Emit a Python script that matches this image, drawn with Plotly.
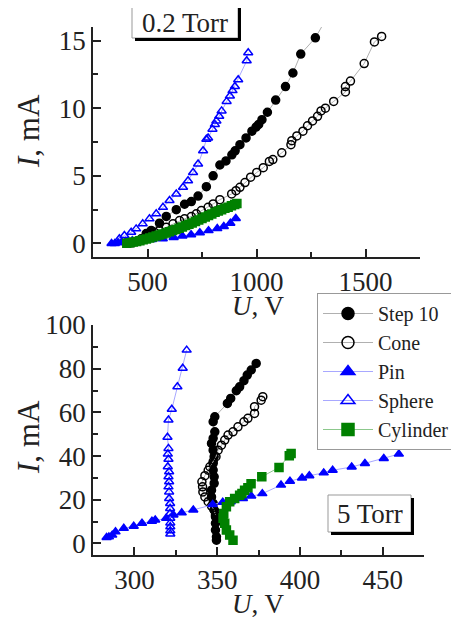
import plotly.graph_objects as go

# browser body margin is 8 px; the figure is sized so it fills the rest of the window
OFF = 8
W, H = 459 - OFF, 620 - OFF
FONT = "Liberation Serif"

# ---------------- 0.2 Torr data ----------------
step_top_u = [430, 463, 494, 517, 555, 586, 632, 670, 701, 732, 770, 801, 832, 860, 887, 902, 924, 952, 979, 998, 1010, 1025, 1050, 1088, 1133, 1167, 1203, 1270, 1320]
step_top_i = [0.05, 0.22, 0.73, 0.96, 1.5, 2.0, 2.5, 2.9, 3.1, 3.5, 4.2, 5.0, 5.8, 6.1, 6.55, 6.85, 7.3, 7.8, 8.3, 8.6, 8.8, 9.15, 9.7, 10.6, 11.6, 12.6, 14.0, 15.2, 16.6]

cone_top_u = [471, 509, 532, 555, 586, 617, 647, 670, 701, 724, 747, 778, 801, 832, 886, 906, 924, 947, 973, 1001, 1031, 1059, 1075, 1116, 1158, 1162, 1185, 1213, 1234, 1257, 1280, 1296, 1316, 1354, 1408, 1408, 1431, 1494, 1541, 1574]
cone_top_i = [0.35, 0.59, 0.83, 0.96, 1.2, 1.45, 1.69, 1.82, 1.99, 2.19, 2.43, 2.67, 2.92, 3.24, 3.66, 3.9, 4.15, 4.5, 4.9, 5.25, 5.6, 6.06, 6.2, 6.7, 7.3, 7.6, 7.95, 8.3, 8.7, 9.06, 9.4, 9.8, 10.0, 10.5, 11.2, 11.6, 12.0, 13.3, 14.9, 15.3]

pin_top_u = [335, 350, 365, 380, 400, 430, 470, 520, 570, 620, 660, 700, 740, 780, 820, 850, 880, 905]
pin_top_i = [0.0, 0.0, 0.05, 0.1, 0.15, 0.2, 0.25, 0.3, 0.35, 0.45, 0.55, 0.65, 0.8, 0.95, 1.1, 1.25, 1.5, 1.85]

sph_top_u = [371, 394, 425, 448, 478, 509, 540, 571, 601, 632, 663, 686, 709, 732, 755, 770, 778, 798, 809, 816, 829, 840, 863, 878, 890, 901, 916, 955, 962]
sph_top_i = [0.35, 0.59, 0.83, 1.08, 1.45, 1.82, 2.19, 2.67, 3.17, 3.66, 4.15, 4.64, 5.25, 5.87, 6.85, 7.7, 7.8, 8.45, 8.8, 9.06, 9.4, 9.8, 10.5, 10.9, 11.3, 11.6, 12.1, 13.5, 14.1]

cyl_top_u = [405, 420, 435, 450, 465, 480, 495, 510, 525, 540, 555, 570, 585, 600, 615, 630, 645, 660, 675, 690, 705, 720, 735, 750, 765, 780, 795, 810, 825, 840, 855, 870, 885, 900, 910]
cyl_top_i = [0.02, 0.05, 0.1, 0.15, 0.2, 0.27, 0.33, 0.4, 0.47, 0.55, 0.62, 0.7, 0.78, 0.87, 0.95, 1.04, 1.13, 1.22, 1.32, 1.42, 1.52, 1.63, 1.74, 1.85, 1.96, 2.07, 2.18, 2.3, 2.4, 2.5, 2.6, 2.68, 2.78, 2.88, 2.95]

# ---------------- 5 Torr data ----------------
step_bot_u = [349.6, 349.6, 349, 349, 349, 348.2, 347.6, 346.6, 346.6, 348.2, 348.2, 347.6, 347.6, 348.2, 347.6, 346.6, 347.6, 348.6, 347.6, 348.6, 356.2, 358.2, 361.6, 363.6, 366.2, 368.2, 370.6, 373.6]
step_bot_i = [1.5, 3.0, 6.1, 9.2, 12.2, 15.3, 18.3, 21.3, 24.4, 27.5, 30.5, 33.6, 36.6, 39.7, 42.7, 45.8, 48.1, 51.1, 55.7, 58.0, 64.1, 66.4, 69.9, 71.7, 74.5, 77.1, 79.4, 82.4]

cone_bot_u = [349, 348.2, 346.6, 344.6, 342.6, 341.4, 341.2, 340.8, 342.6, 344.6, 345.6, 347.6, 349.3, 350.6, 352.6, 354.6, 356.6, 359.6, 362.6, 366.2, 368.6, 372.6, 372.6, 376.6, 377.6]
cone_bot_i = [13.0, 15.3, 17.1, 19.1, 21.3, 23.6, 25.9, 28.2, 31.0, 33.5, 35.1, 37.4, 39.7, 42.7, 45.0, 47.3, 49.6, 51.1, 53.4, 55.7, 57.3, 59.5, 62.6, 65.6, 67.2]

pin_bot_u = [283.2, 284.6, 286.6, 288.6, 293.6, 299.6, 304.6, 310.6, 312.6, 319.2, 323.6, 328.6, 335.6, 347.3, 353.4, 358.2, 365.6, 370.6, 377.3, 388.6, 394.0, 401.3, 405.7, 414.4, 419.8, 431.3, 439.3, 450.7, 459.8]
pin_bot_i = [2.7, 3.0, 3.8, 5.3, 6.9, 7.9, 9.2, 10.2, 10.7, 11.5, 13.0, 14.0, 15.3, 17.8, 18.9, 19.1, 20.6, 21.7, 22.8, 26.7, 28.5, 30.0, 31.0, 32.3, 33.5, 35.0, 36.6, 38.9, 40.9]

sph_bot_u = [321.7, 321.7, 321.7, 321.7, 321.7, 321.5, 321.6, 321.6, 321.0, 321.0, 320.6, 321.0, 320.6, 321.0, 320.2, 320.6, 320.2, 320.6, 320.0, 320.6, 322.6, 326.0, 329.2, 331.6]
sph_bot_i = [4.3, 5.8, 7.6, 9.4, 11.5, 13.7, 16.0, 18.3, 20.6, 23.6, 25.9, 28.2, 30.5, 32.8, 35.1, 38.5, 40.9, 43.5, 48.6, 56.5, 61.4, 71.7, 80.2, 88.5]

cyl_bot_u = [359.6, 357.6, 355.6, 354.6, 353.6, 354.0, 355.6, 357.6, 360.6, 363.6, 365.0, 366.6, 368.6, 370.5, 377.0, 387.4, 393.6, 394.7]
cyl_bot_i = [1.5, 3.8, 6.1, 9.2, 11.5, 13.7, 16.8, 19.1, 20.6, 22.1, 22.9, 24.4, 25.5, 27.3, 30.5, 34.8, 40.1, 41.2]

names = ["Step 10", "Cone", "Pin", "Sphere", "Cylinder"]

styles = {
    "Step 10": dict(symbol="circle", color="black", line="#b0b0b0"),
    "Cone": dict(symbol="circle-open", color="black", line="#b0b0b0"),
    "Pin": dict(symbol="triangle-up", color="#0000ff", line="#a8a8ff"),
    "Sphere": dict(symbol="triangle-up-open", color="#0000ff", line="#a8a8ff"),
    "Cylinder": dict(symbol="square", color="#008000", line="#8cc88c"),
}

top = {
    "Step 10": (step_top_u, step_top_i),
    "Cone": (cone_top_u, cone_top_i),
    "Pin": (pin_top_u, pin_top_i),
    "Sphere": (sph_top_u, sph_top_i),
    "Cylinder": (cyl_top_u, cyl_top_i),
}
bot = {
    "Step 10": (step_bot_u, step_bot_i),
    "Cone": (cone_bot_u, cone_bot_i),
    "Pin": (pin_bot_u, pin_bot_i),
    "Sphere": (sph_bot_u, sph_bot_i),
    "Cylinder": (cyl_bot_u, cyl_bot_i),
}

fig = go.Figure()


def add(name, u, i, xa, ya, show, size=8):
    s = styles[name]
    fig.add_trace(go.Scatter(
        x=u, y=i, xaxis=xa, yaxis=ya, name=name,
        showlegend=show, mode="lines+markers",
        line=dict(color=s["line"], width=1),
        marker=dict(symbol=s["symbol"], color=s["color"], size=size,
                    line=dict(color=s["color"], width=1.5)),
    ))


for n in names:
    add(n, *top[n], "x", "y", False)
for n in names:
    add(n, *bot[n], "x2", "y2", False)
# legend entries (no data, just the key)
for n in names:
    add(n, [None], [None], "x2", "y2", True, size=12)


def px_x(p):
    return (p - OFF) / W


def px_y(p):
    return 1 - (p - OFF) / H


axis_common = dict(
    showline=True, linecolor="#222", linewidth=1.5, mirror=False,
    ticks="inside", ticklen=8, tickwidth=1.5, tickcolor="#222",
    showgrid=False, zeroline=False,
    tickfont=dict(family=FONT, size=27, color="#222"),
)
minor_common = dict(ticklen=5, ticks="inside", tickcolor="#222", tickwidth=1.5)

fig.update_layout(
    width=W, height=H,
    margin=dict(l=0, r=0, t=0, b=0, autoexpand=False),
    paper_bgcolor="white", plot_bgcolor="white",
    font=dict(family=FONT, color="#222"),
    xaxis=dict(domain=[px_x(93), px_x(420)], range=[250, 1750], dtick=500, tick0=0,
               anchor="y", minor=dict(dtick=250, **minor_common), **axis_common),
    yaxis=dict(domain=[px_y(257), px_y(27)], range=[-1, 16], dtick=5, tick0=0,
               anchor="x", minor=dict(dtick=2.5, **minor_common), **axis_common),
    xaxis2=dict(domain=[px_x(93), px_x(424)], range=[275, 475], dtick=50, tick0=0,
                anchor="y2", minor=dict(dtick=25, **minor_common), **axis_common),
    yaxis2=dict(domain=[px_y(555), px_y(325)], range=[-5.3, 100], dtick=20, tick0=0,
                anchor="x2", minor=dict(dtick=10, **minor_common), **axis_common),
    legend=dict(x=px_x(317), y=px_y(293), xanchor="left", yanchor="top",
                bgcolor="white", bordercolor="#999", borderwidth=1,
                font=dict(family=FONT, size=20, color="#222"),
                itemsizing="trace", itemwidth=50, tracegroupgap=0),
    showlegend=True,
)

title_font = dict(family=FONT, size=27, color="#222")
ytitle_font = dict(family=FONT, size=31, color="#222")
annots = [
    dict(x=px_x(258), y=px_y(306), text="<i>U</i>, V", font=title_font),
    dict(x=px_x(258), y=px_y(604), text="<i>U</i>, V", font=title_font),
    dict(x=px_x(29), y=px_y(131), text="<i>I</i>, mA", textangle=-90, font=ytitle_font),
    dict(x=px_x(29), y=px_y(437), text="<i>I</i>, mA", textangle=-90, font=ytitle_font),
    dict(x=px_x(185), y=px_y(23), text="0.2 Torr", font=title_font),
    dict(x=px_x(370), y=px_y(514), text="5 Torr", font=title_font),
]
for a in annots:
    fig.add_annotation(xref="paper", yref="paper", showarrow=False,
                       xanchor="center", yanchor="middle", **a)


def boxed(x0, y0, x1, y1):
    fig.add_shape(type="rect", xref="paper", yref="paper",
                  x0=px_x(x0), x1=px_x(x1), y0=px_y(y1), y1=px_y(y0),
                  line=dict(color="#999", width=1), fillcolor="rgba(0,0,0,0)", layer="above")
    fig.add_shape(type="line", xref="paper", yref="paper",
                  x0=px_x(x0 + 3), x1=px_x(x1 + 2), y0=px_y(y1 + 1.5), y1=px_y(y1 + 1.5),
                  line=dict(color="black", width=3), layer="above")
    fig.add_shape(type="line", xref="paper", yref="paper",
                  x0=px_x(x1 + 1.5), x1=px_x(x1 + 1.5), y0=px_y(y0 + 3), y1=px_y(y1 + 3),
                  line=dict(color="black", width=3), layer="above")


boxed(132, 4, 238, 38)
boxed(328, 495, 411, 532)
# legend shadow (below the legend box)
fig.add_shape(type="line", xref="paper", yref="paper",
              x0=px_x(320), x1=px_x(459), y0=px_y(447.5), y1=px_y(447.5),
              line=dict(color="black", width=3), layer="above")

fig.write_html("out.html")
